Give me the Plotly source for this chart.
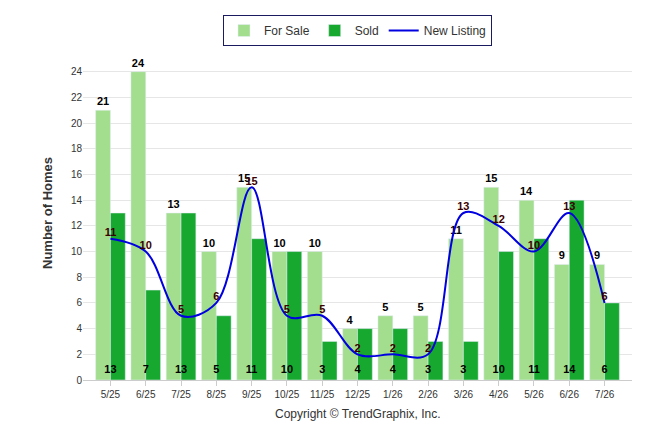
import plotly.graph_objects as go

months = ['5/25', '6/25', '7/25', '8/25', '9/25', '10/25', '11/25', '12/25',
          '1/26', '2/26', '3/26', '4/26', '5/26', '6/26', '7/26']
for_sale = [21, 24, 13, 10, 15, 10, 10, 4, 5, 5, 11, 15, 14, 9, 9]
sold = [13, 7, 13, 5, 11, 10, 3, 4, 4, 3, 3, 10, 11, 14, 6]
new_listing = [11, 10, 5, 6, 15, 5, 5, 2, 2, 2, 13, 12, 10, 13, 6]

lbl = dict(family='Arial Black, Arial', size=11, color='black')

fig = go.Figure()
fig.add_trace(go.Bar(x=months, y=for_sale, name='For Sale', marker_color='#a3de8e',
                     text=['<b>%d</b>' % v for v in for_sale], textposition='outside',
                     textfont=lbl, cliponaxis=False))
fig.add_trace(go.Bar(x=months, y=sold, name='Sold', marker_color='#17a82f'))
# sold labels sit at the bar base
fig.add_trace(go.Scatter(x=months, y=[0.3] * len(sold), mode='text',
                         text=['<b>%d</b>' % v for v in sold],
                         textposition='top center', textfont=lbl,
                         showlegend=False, hoverinfo='skip', xaxis='x2'))
fig.add_trace(go.Scatter(x=months, y=new_listing, name='New Listing', mode='lines+text',
                         line=dict(color='#0000e0', width=2, shape='spline'),
                         text=['<b>%d</b>' % v for v in new_listing],
                         textposition='top center',
                         textfont=dict(family='Arial', size=11, color='#3a0000'),
                         xaxis='x2'))

fig.update_layout(
    width=646, height=434,
    barmode='group', bargap=0.16, bargroupgap=0,
    plot_bgcolor='white', paper_bgcolor='white',
    font=dict(family='Arial', size=10, color='#333'),
    margin=dict(l=75, r=22, t=38, b=62, autoexpand=False),
    legend=dict(orientation='h', x=0.5, xanchor='center', y=1.0, yanchor='bottom',
                bordercolor='#1a1a60', borderwidth=1, font=dict(size=12)),
    xaxis=dict(showline=True, linecolor='#ccc', ticks='outside', tickcolor='#ccc'),
    xaxis2=dict(overlaying='x', matches='x', visible=False),
    yaxis=dict(range=[0, 26], tickvals=list(range(0, 25, 2)), gridcolor='#e6e6e6',
               zeroline=False,
               title=dict(text='<b>Number of Homes</b>', font=dict(size=13, color='#333'))),
    annotations=[dict(text='Copyright © TrendGraphix, Inc.', x=0.5, y=-0.13,
                      xref='paper', yref='paper', showarrow=False,
                      font=dict(size=12, color='#333'))],
)

fig.write_html('out.html')
